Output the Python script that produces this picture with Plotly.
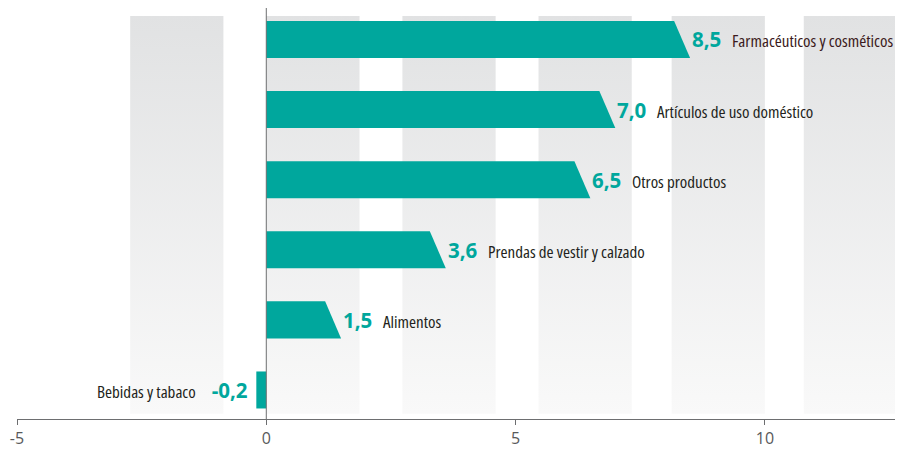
import plotly.graph_objects as go

# ---- data ----
categories = ["Farmacéuticos y cosméticos", "Artículos de uso doméstico", "Otros productos",
              "Prendas de vestir y calzado", "Alimentos", "Bebidas y tabaco"]
values = [8.5, 7.0, 6.5, 3.6, 1.5, -0.2]
value_labels = ["8,5", "7,0", "6,5", "3,6", "1,5", "-0,2"]
x_ticks = [-5, 0, 5, 10]
x_tick_labels = ["-5", "0", "5", "10"]
band_starts = [-2.73, 0.0, 2.73, 5.46, 8.13, 10.78]
band_width = 1.87

# ---- style ----
TEAL = "#00a79d"
FONT = "Open Sans, Roboto, sans-serif"
Y_MIN, Y_MAX = -0.414, 5.449
BAND_Y0, BAND_Y1 = -0.34, 5.335
HALF_H = 0.264
TIP = 0.32

fig = go.Figure()

# background gradient bands
for s in band_starts:
    fig.add_trace(go.Scatter(
        x=[s, s + band_width, s + band_width, s, s],
        y=[BAND_Y0, BAND_Y0, BAND_Y1, BAND_Y1, BAND_Y0],
        mode="lines", line=dict(width=0), fill="toself",
        fillgradient=dict(type="vertical", start=BAND_Y0, stop=BAND_Y1,
                          colorscale=[[0, "#f9f9f9"], [1, "#e1e2e3"]]),
        hoverinfo="skip", showlegend=False))

n = len(categories)
for i, (cat, v, lab) in enumerate(zip(categories, values, value_labels)):
    c = n - 1 - i
    if v > 0:
        xs = [0, v - TIP, v, 0, 0]
    else:
        xs = [0, v, v, 0, 0]
    ys = [c + HALF_H, c + HALF_H, c - HALF_H, c - HALF_H, c + HALF_H]
    fig.add_trace(go.Scatter(x=xs, y=ys, mode="lines", line=dict(width=0),
                             fill="toself", fillcolor=TEAL, hoverinfo="skip",
                             showlegend=False))
    cat_color = "#3b1a20" if i == 0 else "#231f20"
    num = f"<b>{lab}</b>"
    catspan = (f"<span style='font-size:17px;color:{cat_color};font-stretch:condensed;font-weight:normal'>{cat}</span>")
    if v > 0:
        txt = num + " \u00a0" + catspan
        fig.add_annotation(x=v, y=c, text=txt, showarrow=False, xanchor="left",
                           yanchor="middle", xshift=0,
                           font=dict(family=FONT, size=20.5, color=TEAL))
    else:
        txt = catspan + "\u00a0\u00a0 " + num
        fig.add_annotation(x=v, y=c, text=txt, showarrow=False, xanchor="right",
                           yanchor="middle", xshift=-6,
                           font=dict(family=FONT, size=20.5, color=TEAL))

# zero line
fig.add_shape(type="line", x0=0, x1=0, y0=Y_MIN, y1=Y_MAX, xref="x", yref="y",
              line=dict(color="#6d6e70", width=1), layer="above")

fig.update_layout(
    width=895, height=442,
    margin=dict(l=9, r=5, t=0, b=31),
    paper_bgcolor="white", plot_bgcolor="white",
    font=dict(family=FONT),
    xaxis=dict(range=[-5, 12.67], tickvals=x_ticks, ticktext=x_tick_labels,
               automargin=False,
               showgrid=False, zeroline=False, showline=True, linecolor="#6d6e70",
               linewidth=1, ticks="outside", ticklen=5, tickcolor="#6d6e70",
               tickfont=dict(family=FONT, size=16, color="#58595b")),
    yaxis=dict(range=[Y_MIN, Y_MAX], visible=False, automargin=False,
               showgrid=False, zeroline=False),
)

fig.write_html("out.html")
